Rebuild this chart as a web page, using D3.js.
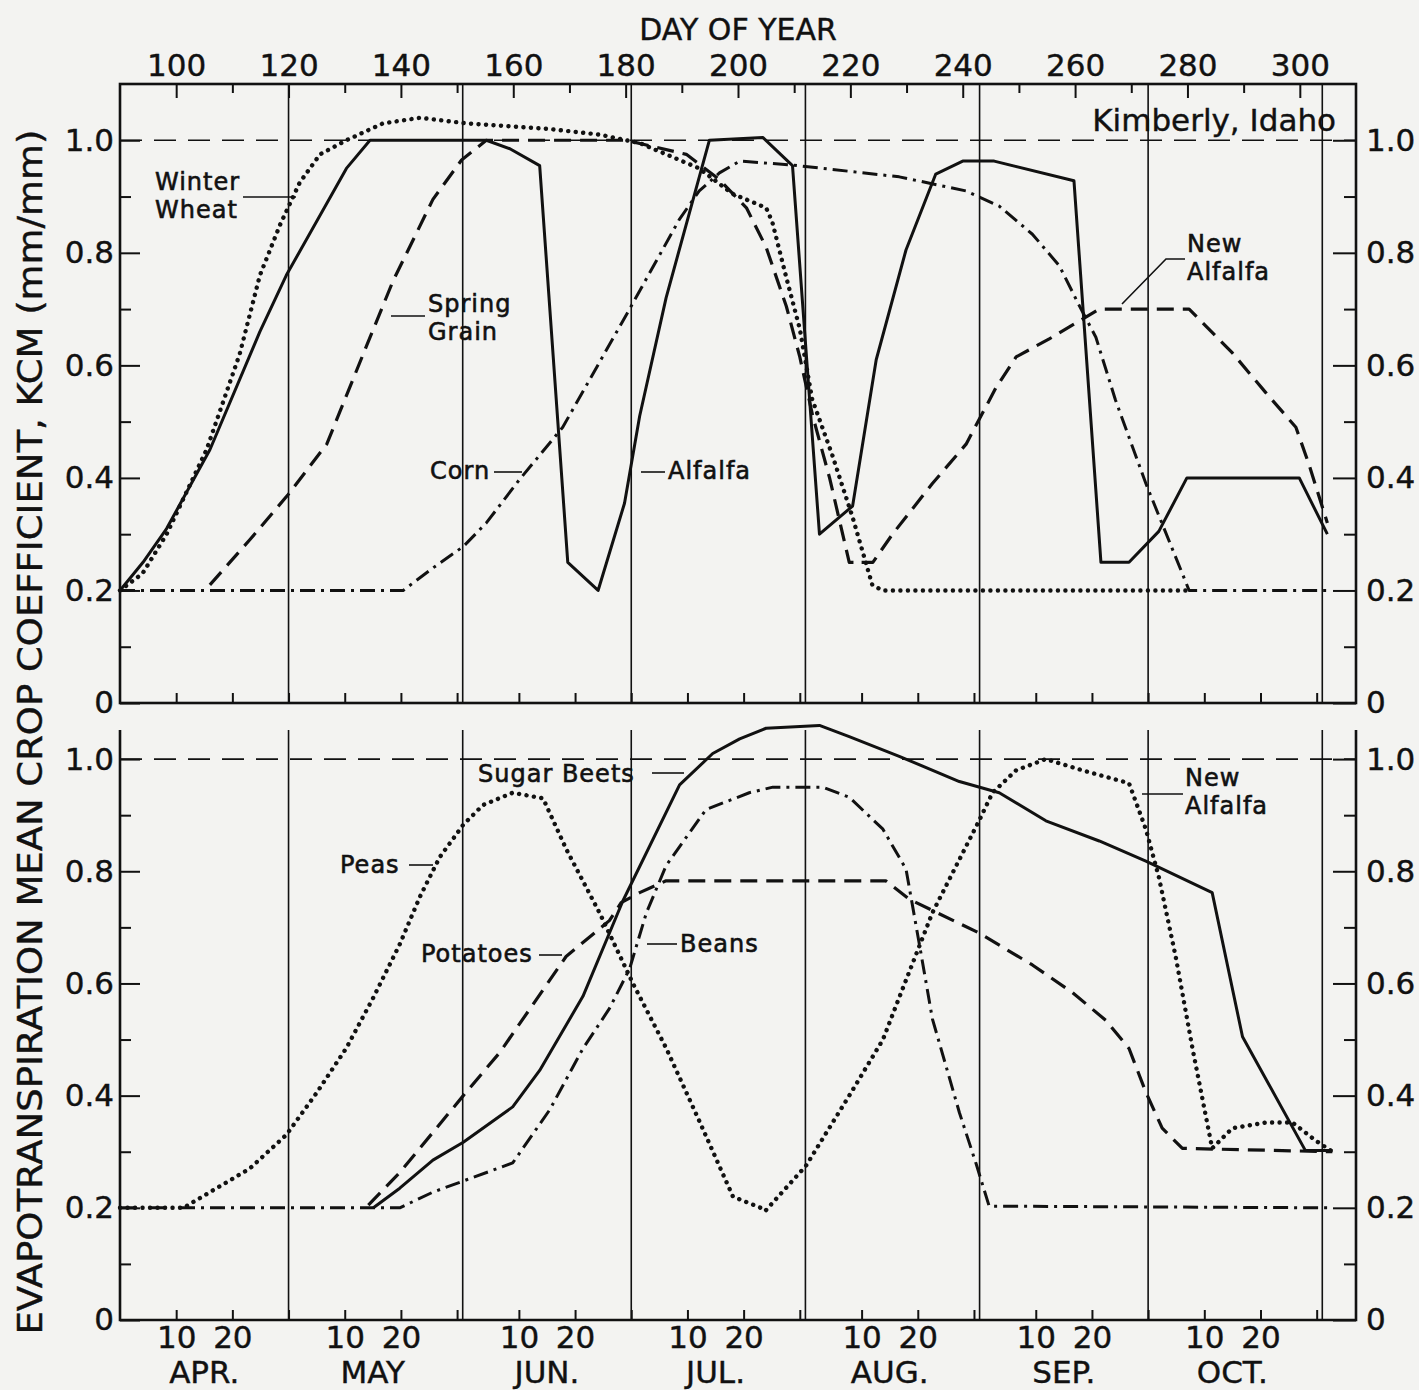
<!DOCTYPE html>
<html lang="en">
<head>
<meta charset="utf-8">
<title>Mean crop coefficients, Kimberly, Idaho</title>
<script src="https://cdnjs.cloudflare.com/ajax/libs/d3/7.8.5/d3.min.js"></script>
<style>
  body { margin: 0; background: #f3f3f1; }
  svg { display: block; font-family: "DejaVu Sans", sans-serif; }
</style>
</head>
<body>
<script>

// [day of year, Kcm]
// upper panel
var winterWheat = [[90,0.2],[94,0.23],[98.3,0.3],[105.4,0.45],[111.3,0.62],[114.9,0.76],[118.5,0.85],[122,0.925],[125.6,0.975],[130.3,1.0],[136.8,1.03],[143.4,1.04],[151.7,1.03],[166.5,1.02],[175.4,1.01],[182.5,0.995],[193.1,0.95],[199,0.905],[205,0.88],[206.1,0.855],[208.6,0.756],[211,0.665],[213.2,0.54],[216.8,0.44],[220.4,0.33],[223.9,0.21],[225.7,0.2],[280,0.2]];
var alfalfa = [[90,0.2],[94.1,0.25],[98.3,0.31],[106,0.45],[114.9,0.66],[119.6,0.76],[130.3,0.95],[134.5,1.0],[155.2,1.0],[159.4,0.985],[164.7,0.955],[169.7,0.25],[175.1,0.2],[179.8,0.355],[182.5,0.51],[187.2,0.72],[194.9,1.0],[204.4,1.005],[209.7,0.955],[214.5,0.3],[220.4,0.35],[224.6,0.61],[229.9,0.805],[235.2,0.94],[240,0.963],[245.6,0.963],[259.8,0.928],[264.6,0.25],[269.6,0.25],[274.9,0.305],[279.9,0.4],[299.9,0.4],[304.9,0.3]];
var springGrain = [[106,0.21],[113.1,0.29],[119.9,0.37],[126.8,0.46],[133.9,0.635],[138.6,0.75],[145.7,0.895],[150.8,0.965],[155.2,1.0],[180.1,1.0],[190.8,0.975],[196.7,0.93],[201.5,0.88],[205,0.81],[208.6,0.705],[211,0.615],[213.3,0.51],[216.3,0.4],[219.8,0.25],[222,0.25]];
var newAlfalfaUpper = [[222,0.25],[224,0.25],[227.5,0.3],[234.6,0.39],[240.6,0.46],[245.9,0.56],[249.5,0.615],[255.4,0.647],[264.3,0.7],[280.3,0.7],[288,0.622],[293.9,0.552],[299.3,0.49],[301.6,0.425],[304.9,0.32]];
var corn = [[90,0.2],[140.4,0.2],[145.7,0.24],[151.1,0.278],[155.2,0.32],[161.1,0.397],[168.8,0.49],[180.7,0.7],[189.6,0.86],[193.1,0.91],[196.7,0.942],[200.3,0.963],[209.7,0.956],[228.7,0.935],[240.6,0.91],[246.5,0.883],[252.4,0.833],[257.2,0.777],[260.7,0.707],[263.7,0.65],[267.2,0.538],[272.6,0.39],[280.3,0.2],[305.2,0.2]];

// lower panel
var peas = [[90,0.2],[101.3,0.2],[107.2,0.235],[113.1,0.27],[119.6,0.33],[125,0.405],[130.3,0.485],[135.1,0.575],[139.8,0.67],[143.4,0.755],[146.9,0.825],[151.1,0.883],[154.6,0.918],[159.9,0.94],[165.3,0.93],[169.4,0.84],[175.4,0.725],[181.3,0.6],[187.2,0.485],[193.1,0.355],[199.1,0.22],[205,0.196]];
var newAlfalfaLower = [[205,0.196],[212.1,0.275],[219.8,0.4],[225.8,0.5],[228.7,0.575],[234.6,0.726],[242.9,0.89],[245.3,0.94],[249.5,0.98],[254.8,1.0],[261.3,0.98],[269.6,0.957],[272.6,0.875],[274.9,0.79],[277.9,0.648],[280.9,0.484],[284.4,0.306],[288,0.342],[293.9,0.352],[298.7,0.352],[302.8,0.32],[305.8,0.3]];
var sugarBeets = [[135.1,0.2],[139.8,0.235],[145.7,0.285],[151.1,0.317],[159.9,0.38],[164.7,0.445],[172.4,0.577],[179.5,0.747],[189.6,0.954],[195.5,1.01],[200.3,1.036],[205,1.055],[214.5,1.06],[219.8,1.04],[228.7,1.005],[239.4,0.96],[246.5,0.94],[254.8,0.89],[264.3,0.854],[272.6,0.818],[284.4,0.762],[289.8,0.505],[294.5,0.42],[301,0.302],[305.8,0.302]];
var potatoes = [[134.2,0.205],[139.8,0.263],[151.1,0.4],[157.6,0.477],[169.4,0.648],[177.1,0.712],[179.2,0.744],[182.5,0.762],[187.2,0.783],[226.3,0.783],[230.5,0.75],[242.9,0.69],[252.4,0.633],[259.5,0.584],[265.5,0.534],[269.6,0.484],[272.6,0.406],[275.5,0.342],[279.1,0.306],[305.8,0.3]];
var beans = [[90,0.2],[139.8,0.2],[145.7,0.228],[151.7,0.25],[159.9,0.28],[166.5,0.375],[172.4,0.484],[177.1,0.555],[180.7,0.626],[183.7,0.726],[187.2,0.81],[194.3,0.91],[202,0.94],[206.2,0.95],[215.1,0.95],[219.8,0.932],[225.8,0.875],[229.9,0.804],[232.3,0.669],[234.6,0.537],[239.4,0.37],[242.4,0.278],[244.7,0.203],[305.8,0.2]];

// axes
var monthNames = ["APR.", "MAY", "JUN.", "JUL.", "AUG.", "SEP.", "OCT."];
var monthStarts = [90, 120, 151, 181, 212, 243, 273, 304]; // day 0 of each month (and Nov)
var dayTicks = d3.range(100, 301, 10);
var dayLabels = d3.range(100, 301, 20);
var kcLabels = [0, 0.2, 0.4, 0.6, 0.8, 1.0];
var kcMinor = [0.1, 0.3, 0.5, 0.7, 0.9];

var W = 1419, H = 1390;
var svg = d3.select("body").append("svg").attr("width", W).attr("height", H);

var x = d3.scaleLinear().domain([90, 310]).range([120, 1356]);
var yTop = d3.scaleLinear().domain([0, 1.1]).range([703, 84]);
var yBot = d3.scaleLinear().domain([0, 1.1]).range([1320, 703]);

var kcFormat = function(d) { return d === 0 ? "0" : d3.format(".1f")(d); };

var styles = {
  solid:   { dash: null, w: 3 },
  dashed:  { dash: "17 9", w: 3.2 },
  dotted:  { dash: "0.1 7.4", w: 4.4, cap: "round" },
  dashdot: { dash: "15 6 3 6", w: 3 }
};

// month-of-year tick days (10th, 20th, 30th)
var monthTicks = [];
monthNames.forEach(function(m, i) {
  [10, 20, 30].forEach(function(d) { monthTicks.push({ doy: monthStarts[i] + d, day: d }); });
});

function styleAxis(g) {
  g.select(".domain").remove();
  g.attr("font-family", "DejaVu Sans, sans-serif").attr("font-size", 31);
  g.selectAll("line").attr("stroke", "#111").attr("stroke-width", 2);
  g.selectAll("text").attr("fill", "#111").attr("stroke", "#111").attr("stroke-width", 0.4);
}

function panel(y, top, series) {
  var g = svg.append("g");

  // month boundaries
  g.selectAll("line.month")
    .data(monthStarts.slice(1))
    .enter().append("line")
    .attr("x1", function(d) { return x(d); })
    .attr("x2", function(d) { return x(d); })
    .attr("y1", top).attr("y2", y(0))
    .attr("stroke", "#111").attr("stroke-width", 1.6);

  // reference line Kcm = 1.0
  g.append("line")
    .attr("x1", x(90)).attr("x2", x(310))
    .attr("y1", y(1)).attr("y2", y(1))
    .attr("stroke", "#111").attr("stroke-width", 1.6)
    .attr("stroke-dasharray", "22 12");

  // axes
  g.append("g").attr("transform", "translate(" + x(90) + ",0)")
    .call(d3.axisLeft(y).tickValues(kcLabels).tickSize(-20).tickPadding(6).tickFormat(kcFormat))
    .call(styleAxis);
  g.append("g").attr("transform", "translate(" + x(90) + ",0)")
    .call(d3.axisLeft(y).tickValues(kcMinor).tickSize(-11).tickFormat(""))
    .call(styleAxis);
  g.append("g").attr("transform", "translate(" + x(310) + ",0)")
    .call(d3.axisRight(y).tickValues(kcLabels).tickSize(-23).tickPadding(10).tickFormat(kcFormat))
    .call(styleAxis);
  g.append("g").attr("transform", "translate(" + x(310) + ",0)")
    .call(d3.axisRight(y).tickValues(kcMinor).tickSize(-12).tickFormat(""))
    .call(styleAxis);

  // curves
  var line = d3.line().x(function(d) { return x(d[0]); }).y(function(d) { return y(d[1]); });
  series.forEach(function(s) {
    var st = styles[s.style];
    g.append("path")
      .attr("d", line(s.data))
      .attr("fill", "none")
      .attr("stroke", "#111")
      .attr("stroke-width", st.w)
      .attr("stroke-linejoin", "round")
      .attr("stroke-linecap", st.cap || "butt")
      .attr("stroke-dasharray", st.dash);
  });
  return g;
}

// ---- upper panel ----
var gTop = panel(yTop, 84, [
  { data: corn, style: "dashdot" },
  { data: springGrain, style: "dashed" },
  { data: newAlfalfaUpper, style: "dashed" },
  { data: winterWheat, style: "dotted" },
  { data: alfalfa, style: "solid" }
]);
gTop.append("rect")
  .attr("x", x(90)).attr("y", yTop(1.1))
  .attr("width", x(310) - x(90)).attr("height", yTop(0) - yTop(1.1))
  .attr("fill", "none").attr("stroke", "#111").attr("stroke-width", 2.6);

gTop.append("g").attr("transform", "translate(0," + yTop(1.1) + ")")
  .call(d3.axisTop(x).tickValues(dayTicks.filter(function(d) { return dayLabels.indexOf(d) < 0; }))
    .tickSize(-9).tickFormat(""))
  .call(styleAxis);
gTop.append("g").attr("transform", "translate(0," + yTop(1.1) + ")")
  .call(d3.axisTop(x).tickValues(dayLabels).tickSize(-14).tickPadding(8).tickFormat(d3.format("d")))
  .call(styleAxis);
gTop.append("g").attr("transform", "translate(0," + yTop(0) + ")")
  .call(d3.axisBottom(x).tickValues(monthTicks.map(function(d) { return d.doy; })).tickSize(-10).tickFormat(""))
  .call(styleAxis);

// ---- lower panel ----
var gBot = panel(yBot, 730, [
  { data: beans, style: "dashdot" },
  { data: potatoes, style: "dashed" },
  { data: peas, style: "dotted" },
  { data: newAlfalfaLower, style: "dotted" },
  { data: sugarBeets, style: "solid" }
]);
gBot.append("path")
  .attr("d", "M" + x(90) + "," + 730 + "V" + yBot(0) + "H" + x(310) + "V" + 730)
  .attr("fill", "none").attr("stroke", "#111").attr("stroke-width", 2.6);
gBot.append("g").attr("transform", "translate(0," + yBot(0) + ")")
  .call(d3.axisBottom(x).tickValues(monthTicks.map(function(d) { return d.doy; }))
    .tickSize(-10).tickPadding(6)
    .tickFormat(function(v) {
      var t = monthTicks.find(function(d) { return d.doy === v; });
      return t.day === 30 ? "" : t.day;
    }))
  .call(styleAxis);

svg.append("g").selectAll("text")
  .data(monthNames)
  .enter().append("text")
  .attr("x", function(d, i) { return x(monthStarts[i] + 15); })
  .attr("y", 1383)
  .attr("text-anchor", "middle")
  .attr("font-size", 31)
  .attr("fill", "#111").attr("stroke", "#111").attr("stroke-width", 0.4)
  .text(function(d) { return d; });

// ---- titles ----
svg.append("text")
  .attr("x", x(200)).attr("y", 40)
  .attr("text-anchor", "middle").attr("font-size", 30)
  .attr("fill", "#111").attr("stroke", "#111").attr("stroke-width", 0.4)
  .text("DAY OF YEAR");

svg.append("text")
  .attr("transform", "translate(42," + 732 + ") rotate(-90)")
  .attr("text-anchor", "middle").attr("font-size", 33)
  .attr("fill", "#111").attr("stroke", "#111").attr("stroke-width", 0.4)
  .attr("textLength", 1205).attr("lengthAdjust", "spacingAndGlyphs")
  .text("EVAPOTRANSPIRATION MEAN CROP COEFFICIENT, KCM (mm/mm)");

svg.append("text")
  .attr("x", 1336).attr("y", 131)
  .attr("text-anchor", "end").attr("font-size", 31)
  .attr("fill", "#111").attr("stroke", "#111").attr("stroke-width", 0.4)
  .text("Kimberly, Idaho");

// ---- curve labels (pixel layout) ----
var notes = [
  { lines: ["Winter", "Wheat"], x: 155, y: 190, leader: [[243, 197], [296, 197]] },
  { lines: ["Spring", "Grain"], x: 428, y: 312, leader: [[391, 316], [425, 316]] },
  { lines: ["Corn"], x: 430, y: 479, leader: [[494, 472], [522, 472]] },
  { lines: ["Alfalfa"], x: 668, y: 479, leader: [[641, 472], [665, 472]] },
  { lines: ["New", "Alfalfa"], x: 1187, y: 252, leader: [[1185, 259], [1166, 259], [1122, 304]] },
  { lines: ["Peas"], x: 340, y: 873, leader: [[409, 865], [433, 865]] },
  { lines: ["Potatoes"], x: 421, y: 962, leader: [[539, 955], [562, 955]] },
  { lines: ["Sugar Beets"], x: 478, y: 782, leader: [[652, 773], [684, 773]] },
  { lines: ["Beans"], x: 680, y: 952, leader: [[647, 944], [677, 944]] },
  { lines: ["New", "Alfalfa"], x: 1185, y: 786, leader: [[1142, 794], [1183, 794]] }
];

var gNotes = svg.append("g");
notes.forEach(function(n) {
  var t = gNotes.append("text")
    .attr("x", n.x).attr("y", n.y)
    .attr("font-size", 24).attr("fill", "#111")
    .attr("stroke", "#111").attr("stroke-width", 0.6)
    .attr("letter-spacing", 1);
  n.lines.forEach(function(l, i) {
    t.append("tspan").attr("x", n.x).attr("dy", i === 0 ? 0 : 28).text(l);
  });
  gNotes.append("path")
    .attr("d", d3.line()(n.leader))
    .attr("fill", "none").attr("stroke", "#111").attr("stroke-width", 1.6);
});

</script>
</body>
</html>
